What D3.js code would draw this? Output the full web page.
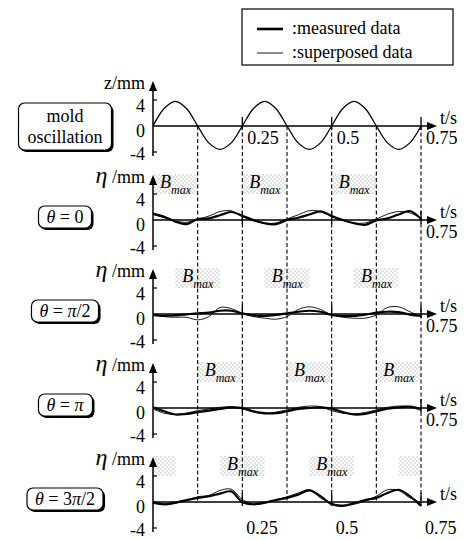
<!DOCTYPE html>
<html>
<head>
<meta charset="utf-8">
<script src="https://cdn.jsdelivr.net/npm/d3@7"></script>
<style>
  body { margin: 0; background: #fff; }
  svg { display: block; }
  svg text { font-family: "Liberation Serif", Tinos, "Times New Roman", Times, "DejaVu Serif", "Noto Serif", FreeSerif, serif; }
</style>
</head>
<body>
<div id="chart"></div>
<script>
// sample times (s)
const timeSec = [0, 0.03125, 0.0625, 0.09375, 0.125, 0.15625, 0.1875, 0.21875, 0.25,
    0.28125, 0.3125, 0.34375, 0.375, 0.40625, 0.4375, 0.46875, 0.5,
    0.53125, 0.5625, 0.59375, 0.625, 0.65625, 0.6875, 0.71875, 0.75];

// mold oscillation z (mm)
const zMold = [0, 2.7, 3.8, 2.7, 0, -2.6, -3.6, -2.6, 0, 2.7, 3.8, 2.7, 0, -2.6, -3.6, -2.6, 0,
    2.7, 3.8, 2.7, 0, -2.6, -3.6, -2.6, 0];

// meniscus height eta (mm)
const measuredTheta0 = [0.99, 0.5, -0.25, -0.64, 0.15, 0.25, 0.74, 1.23, 0.64, 0, -0.5, -0.64, 0,
    0.35, 0.84, 1.33, 0.6, 0, -0.5, -0.74, -0.05, 0.25, 0.84, 1.38, 0.15];
const superposedTheta0 = [0.84, 0.35, -0.15, -0.35, 0.1, 0.6, 1.3, 1.42, 0.55, -0.15, -0.5, -0.45, 0.15,
    0.8, 1.43, 1.3, 0.64, -0.05, -0.45, -0.45, 0.15, 0.9, 1.3, 1.1, 0.3];

const measuredThetaHalfPi = [-0.15, -0.3, -0.2, -0.05, 0.1, 0.2, 0.5, 0.5, 0.1, -0.2, -0.3, -0.15, 0.1,
    0.35, 0.5, 0.35, -0.15, -0.3, -0.3, -0.1, 0.2, 0.35, 0.3, -0.1, -0.3];
const superposedThetaHalfPi = [0.1, -0.4, -0.5, -0.5, -0.9, -0.4, 1.0, 0.84, 0.1, -0.4, -0.64, -0.8, -0.4,
    0.7, 1.1, 0.7, -0.15, -0.5, -0.64, -0.64, -0.15, 1.0, 1.1, 0.35, -0.4];

const measuredThetaPi = [0.1, -0.5, -1.0, -0.9, -0.64, -0.4, -0.15, 0.1, 0, -0.5, -0.8, -0.8, -0.5,
    -0.15, 0, 0.1, -0.1, -0.64, -1.0, -0.9, -0.5, -0.1, 0.1, 0.2, -0.15];
const superposedThetaPi = [-0.15, -0.8, -1.0, -0.8, -0.4, -0.15, 0.1, 0.2, -0.15, -0.64, -0.9, -0.64, -0.3,
    0.1, 0.3, 0.2, -0.4, -0.8, -0.9, -0.7, -0.3, 0.1, 0.3, 0.2, -0.4];

const measuredTheta3HalfPi = [-0.1, -0.35, -0.1, 0.3, 0.64, 0.9, 1.28, 1.63, 0, -0.35, -0.1, 0.3, 0.64,
    1.14, 1.78, 0.9, -0.35, -0.6, -0.2, 0.3, 0.64, 1.38, 1.88, 0.9, -0.6];
const superposedTheta3HalfPi = [0.15, -0.35, -0.2, 0.25, 0.8, 1.0, 1.78, 1.98, 0.4, -0.35, -0.2, 0.3, 0.8,
    1.38, 1.88, 0.64, -0.2, -0.5, -0.35, 0.15, 0.9, 1.88, 1.78, 0.64, -0.1];

// B_max intervals (s)
const bmaxTheta0 = [[0, 0.125], [0.25, 0.375], [0.5, 0.625]];
const bmaxThetaHalfPi = [[0.0625, 0.1875], [0.3125, 0.4375], [0.5625, 0.6875]];
const bmaxThetaPi = [[0.125, 0.25], [0.375, 0.5], [0.625, 0.75]];
const bmaxTheta3HalfPi = [[0, 0.0625], [0.1875, 0.3125], [0.4375, 0.5625], [0.6875, 0.75]];

const phaseTimes = [0.125, 0.25, 0.375, 0.5, 0.625, 0.75];
const timeTicks = [0.25, 0.5, 0.75];
const valueTicks = [4, 0, -4];
const legendLabels = [":measured data", ":superposed data"];

const panels = [
    { name: ["mold", "oscillation"], unit: "z", series: [zMold], bmax: [] },
    { name: "θ = 0", unit: "η", series: [measuredTheta0, superposedTheta0], bmax: bmaxTheta0 },
    { name: "θ = π/2", unit: "η", series: [measuredThetaHalfPi, superposedThetaHalfPi], bmax: bmaxThetaHalfPi },
    { name: "θ = π", unit: "η", series: [measuredThetaPi, superposedThetaPi], bmax: bmaxThetaPi },
    { name: "θ = 3π/2", unit: "η", series: [measuredTheta3HalfPi, superposedTheta3HalfPi], bmax: bmaxTheta3HalfPi }
];

const width = 468, height = 540;
const axisLeftX = 153, arrowTipX = 437, boxCenterX = 65;

const svg = d3.select("#chart").append("svg")
    .attr("width", width)
    .attr("height", height);

const pattern = svg.append("defs").append("pattern")
    .attr("id", "dots")
    .attr("patternUnits", "userSpaceOnUse")
    .attr("width", 4)
    .attr("height", 4);
pattern.append("rect").attr("x", 0.5).attr("y", 0.5).attr("width", 1).attr("height", 1).attr("fill", "#8c8c8c");
pattern.append("rect").attr("x", 2.5).attr("y", 2.5).attr("width", 1).attr("height", 1).attr("fill", "#8c8c8c");

const x = d3.scaleLinear().domain([0, 0.75]).range([axisLeftX, 421]);
const zeroY = d3.scalePoint().domain(d3.range(panels.length)).range([126, 502]);

const line = d3.line().curve(d3.curveCatmullRom.alpha(0.5));

// legend
const legend = svg.append("g");
legend.append("rect")
    .attr("x", 242).attr("y", 9).attr("width", 211).attr("height", 56)
    .attr("fill", "none").attr("stroke", "#000").attr("stroke-width", 1.2);
legendLabels.forEach((label, i) => {
    const ly = 29 + i * 24;
    legend.append("line")
        .attr("x1", 257).attr("x2", 283).attr("y1", ly).attr("y2", ly)
        .attr("stroke", "#000").attr("stroke-width", i === 0 ? 2.6 : 0.9);
    legend.append("text")
        .attr("x", 292).attr("y", ly + 5)
        .style("font-size", "18px")
        .text(label);
});

// dashed phase lines
svg.append("g").selectAll("line")
    .data(phaseTimes)
    .join("line")
    .attr("x1", d => x(d)).attr("x2", d => x(d))
    .attr("y1", zeroY(0)).attr("y2", zeroY(panels.length - 1))
    .attr("stroke", "#000")
    .attr("stroke-width", 1.1)
    .attr("stroke-dasharray", "4,2.5");

const drawLabelBox = (g, lines, cy) => {
    const box = g.append("g");
    const text = box.append("text")
        .attr("x", boxCenterX)
        .attr("text-anchor", "middle")
        .style("font-size", "18px");
    if (Array.isArray(lines)) {
        lines.forEach((l, i) => {
            text.append("tspan").attr("x", boxCenterX).attr("y", cy - 4 + i * 21).text(l);
        });
    } else {
        text.attr("y", cy + 6);
        lines.split(/([θπ])/).filter(s => s).forEach(s => {
            const t = text.append("tspan").text(s);
            if (s === "θ" || s === "π") t.style("font-style", "italic");
        });
    }
    const bb = text.node().getBBox();
    const padX = Array.isArray(lines) ? 9 : 8, padY = Array.isArray(lines) ? 3 : 1;
    const rx = bb.x - padX, ry = bb.y - padY, rw = bb.width + padX * 2, rh = bb.height + padY * 2;
    box.insert("rect", "text")
        .attr("x", rx + 2).attr("y", ry + 2).attr("width", rw).attr("height", rh)
        .attr("rx", 6).attr("fill", "#000");
    box.insert("rect", "text")
        .attr("x", rx).attr("y", ry).attr("width", rw).attr("height", rh)
        .attr("rx", 6).attr("fill", "#fff").attr("stroke", "#000").attr("stroke-width", 1.2);
};

panels.forEach((p, i) => {
    const z0 = zeroY(i);
    const y = d3.scaleLinear().domain([-4, 4]).range([z0 + 26, z0 - 26]);
    const g = svg.append("g");

    // B_max boxes
    p.bmax.forEach(([t0, t1]) => {
        g.append("rect")
            .attr("x", x(t0)).attr("y", z0 - 46)
            .attr("width", x(t1) - x(t0)).attr("height", 20)
            .attr("fill", "url(#dots)");
        if (t1 - t0 > 0.1) {
            const label = g.append("text")
                .attr("x", x(t0) + 7).attr("y", z0 - 32)
                .style("font-style", "italic");
            label.append("tspan").style("font-size", "18px").text("B");
            label.append("tspan").style("font-size", "12px").attr("dy", 6).text("max");
        }
    });

    // curves
    p.series.forEach((values, k) => {
        g.append("path")
            .datum(timeSec.map((t, j) => [x(t), y(values[j])]))
            .attr("fill", "none")
            .attr("stroke", "#000")
            .attr("stroke-width", i === 0 ? 1.3 : (k === 0 ? 2.2 : 0.9))
            .attr("d", line);
    });

    // time axis with arrow
    g.append("line")
        .attr("x1", axisLeftX).attr("x2", arrowTipX - 6)
        .attr("y1", z0).attr("y2", z0)
        .attr("stroke", "#000").attr("stroke-width", 1.5);
    g.append("path")
        .attr("d", `M${arrowTipX},${z0} L${arrowTipX - 10},${z0 - 4} L${arrowTipX - 10},${z0 + 4} Z`)
        .attr("fill", "#000");
    g.selectAll(".tick-t")
        .data(timeTicks)
        .join("line")
        .attr("x1", d => x(d)).attr("x2", d => x(d))
        .attr("y1", z0 - 9).attr("y2", z0 + 4)
        .attr("stroke", "#000").attr("stroke-width", 1.3);
    g.append("text")
        .attr("x", 440).attr("y", z0 - 2)
        .style("font-size", "18px")
        .text("t/s");

    const shownTicks = i === 0 ? timeTicks : (i < panels.length - 1 ? [0.75] : []);
    g.selectAll(".tick-label")
        .data(shownTicks)
        .join("text")
        .attr("x", d => x(d) + 5).attr("y", z0 + 18)
        .style("font-size", "18px")
        .text(d => d3.format("")(d));

    // value axis with arrow
    g.append("line")
        .attr("x1", axisLeftX).attr("x2", axisLeftX)
        .attr("y1", z0 + 30).attr("y2", z0 - 38)
        .attr("stroke", "#000").attr("stroke-width", 1.5);
    g.append("path")
        .attr("d", `M${axisLeftX},${z0 - 45} L${axisLeftX - 4},${z0 - 35} L${axisLeftX + 4},${z0 - 35} Z`)
        .attr("fill", "#000");
    g.selectAll(".tick-v")
        .data([4, -4])
        .join("line")
        .attr("x1", axisLeftX).attr("x2", axisLeftX + 4)
        .attr("y1", d => y(d)).attr("y2", d => y(d))
        .attr("stroke", "#000").attr("stroke-width", 1.2);
    g.selectAll(".value-label")
        .data(valueTicks)
        .join("text")
        .attr("x", 145).attr("y", d => y(d) + (d === 4 ? 12 : d === 0 ? 11 : 8))
        .attr("text-anchor", "end")
        .style("font-size", "18px")
        .text(d => d);

    const unit = g.append("text")
        .attr("x", 145).attr("y", z0 - 37)
        .attr("text-anchor", "end")
        .style("font-size", "18px");
    if (p.unit === "z") {
        unit.text("z/mm");
    } else {
        unit.append("tspan").style("font-style", "italic").style("font-size", "24px").text("η");
        unit.append("tspan").text(" /mm");
    }

    drawLabelBox(g, p.name, i === 0 ? z0 : z0 - 3);
});

// bottom time labels
svg.append("g").selectAll("text")
    .data(timeTicks)
    .join("text")
    .attr("x", d => x(d) + 4)
    .attr("y", zeroY(panels.length - 1) + 32)
    .style("font-size", "18px")
    .text(d => d3.format("")(d));
</script>
</body>
</html>
